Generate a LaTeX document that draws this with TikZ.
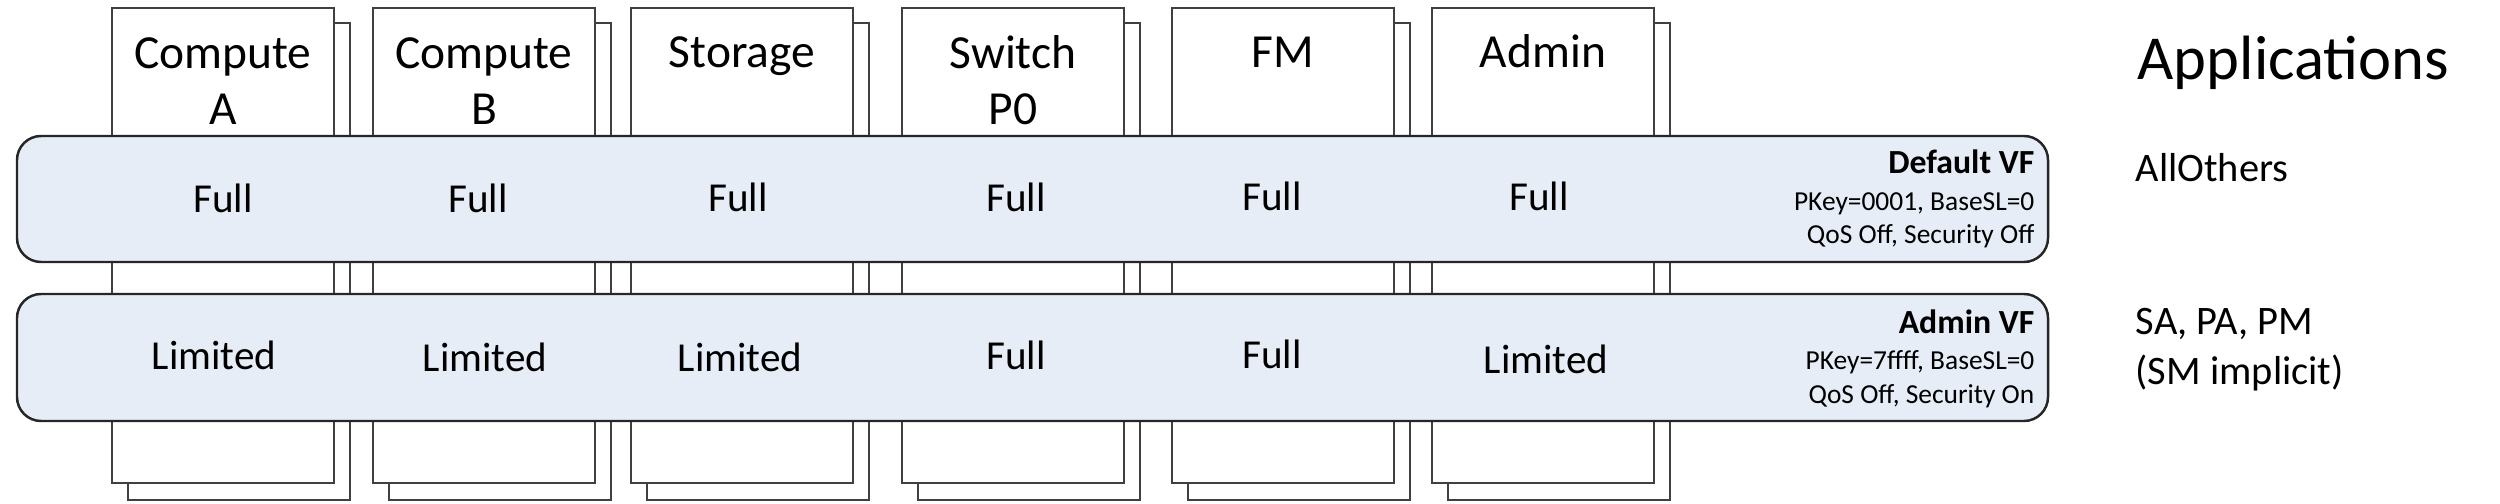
\documentclass[tikz,border=0pt]{standalone}
\usepackage{fontspec}
\setmainfont{Carlito}
\definecolor{vfblue}{RGB}{230,237,247}
\tikzset{
    appbox/.style={draw=black!75,line width=.8pt,fill=white},
    vfband/.style={draw=black!85,line width=.7pt,fill=vfblue,rounded corners=.24cm},
    boxlbl/.style={anchor=base,align=center,inner sep=0pt,font=\fontsize{13.5}{16.2}\selectfont},
    acc/.style={anchor=base,inner sep=0pt,font=\fontsize{11.7}{14}\selectfont},
    vfname/.style={anchor=base east,inner sep=0pt,font=\bfseries\fontsize{9.6}{11}\selectfont},
    vfinfo/.style={anchor=base east,inner sep=0pt,font=\fontsize{7.8}{9}\selectfont},
    apps/.style={anchor=base west,align=left,inner sep=0pt,font=\fontsize{11.5}{14.5}\selectfont},
}
\begin{document}
\begin{tikzpicture}[yscale=-1]

    \begin{scope}[x=.01cm,y=.01cm]
    \useasboundingbox (0,0) rectangle (2500,504);

    % application boxes, the copy behind first
    \draw[appbox] (128,23) rectangle (350,500);
    \draw[appbox] (112,8) rectangle (334,483);
    \draw[appbox] (389,23) rectangle (611,500);
    \draw[appbox] (373,8) rectangle (595,483);
    \draw[appbox] (647,23) rectangle (869,500);
    \draw[appbox] (631,8) rectangle (853,483);
    \draw[appbox] (918,23) rectangle (1140,500);
    \draw[appbox] (902,8) rectangle (1124,483);
    \draw[appbox] (1188,23) rectangle (1410,500);
    \draw[appbox] (1172,8) rectangle (1394,483);
    \draw[appbox] (1448,23) rectangle (1670,500);
    \draw[appbox] (1432,8) rectangle (1654,483);

    % two-line labels sit on the baseline of their last line
    \node[boxlbl] (compa) at (223,125) {Compute\\A};
    \node[boxlbl] (compb) at (484,125) {Compute\\B};
    \node[boxlbl] (stor) at (742,68) {Storage};
    \node[boxlbl] (swp0) at (1013,125) {Switch\\P0};
    \node[boxlbl] (fm) at (1283,68) {FM};
    \node[boxlbl] (admin) at (1543,68) {Admin};

    % virtual fabrics
    \draw[vfband] (17,136) rectangle (2048,262);
    \draw[vfband] (17,294) rectangle (2048,421);

    \node[acc] (dfa) at (223,213) {Full};
    \node[acc] (dfb) at (478,213) {Full};
    \node[acc] (dfs) at (738,212) {Full};
    \node[acc] (dfp) at (1016,212) {Full};
    \node[acc] (dff) at (1272,211) {Full};
    \node[acc] (dfm) at (1539,211) {Full};

    \node[acc] (ava) at (214,370) {Limited};
    \node[acc] (avb) at (485,372) {Limited};
    \node[acc] (avs) at (740,372) {Limited};
    \node[acc] (avp) at (1016,370) {Full};
    \node[acc] (avf) at (1272,369) {Full};
    \node[acc] (avm) at (1546,374) {Limited};

    \node[vfname] (dvf) at (2035,174) {Default VF};
    \node[vfinfo] (dvfkey) at (2035,211) {PKey=0001, BaseSL=0};
    \node[vfinfo] (dvfqos) at (2035,244) {QoS Off, Security Off};
    \node[vfname] (admvf) at (2035,334) {Admin VF};
    \node[vfinfo] (admvfkey) at (2035,370) {PKey=7ffff, BaseSL=0};
    \node[vfinfo] (admvfqos) at (2035,404) {QoS Off, Security On};

    % applications column
    \node[apps,font=\fontsize{17.8}{21}\selectfont] (apphead) at (2137,80) {Applications};
    \node[apps] (dvfapps) at (2135,182) {AllOthers};
    \node[apps] (avfapps) at (2135,385) {SA, PA, PM\\(SM implicit)};
    \end{scope}
\end{tikzpicture}
\end{document}
